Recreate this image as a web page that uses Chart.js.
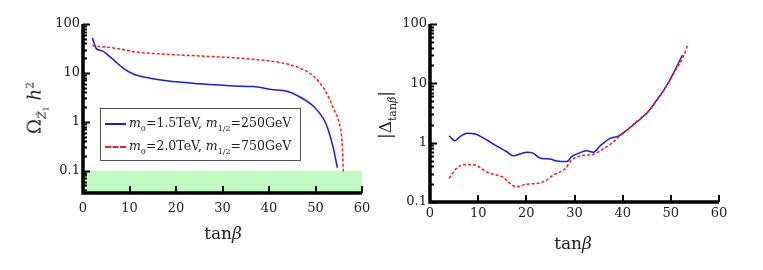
<!DOCTYPE html>
<html>
<head>
<meta charset="utf-8">
<script src="https://cdn.jsdelivr.net/npm/chart.js@4.4.1/dist/chart.umd.min.js"></script>
<style>
body { margin: 0; background: #fff; }
#wrap { position: relative; width: 763px; height: 270px; overflow: hidden; font-family: "DejaVu Serif", serif; color: #222; }
canvas { position: absolute; top: 0; }
.ttl { position: absolute; white-space: nowrap; font-size: 17px; }
.rot { transform: translate(-50%, -50%) rotate(-90deg); }
.legend { position: absolute; left: 100px; top: 108px; width: 199px; height: 51px; border: 1px solid #555; background: #fff; font-size: 12.5px; }
.row { position: absolute; left: 4px; white-space: nowrap; }
.swatch { display: inline-block; width: 21px; vertical-align: middle; margin-right: 3px; }
i { font-style: italic; }
sub { font-size: 8px; }
</style>
</head>
<body>
<div id="wrap">
  <canvas id="relicChart" width="380" height="270" style="left:0px"></canvas>
  <canvas id="tuningChart" width="383" height="270" style="left:380px"></canvas>

  <div class="ttl rot" style="left:37px; top:108px; font-size:18px;">&Omega;<sub style="font-size:11px"><i>Z&#771;</i><sub style="font-size:8px">1</sub></sub>&nbsp;<i>h</i><sup style="font-size:11px">2</sup></div>
  <div class="ttl" style="left:223px; top:233px; transform: translate(-50%, -50%);">tan<i>&beta;</i></div>
  <div class="ttl rot" style="left:387px; top:115px;">|&Delta;<sub style="font-size:11px">tan<i>&beta;</i></sub>|</div>
  <div class="ttl" style="left:573px; top:243px; transform: translate(-50%, -50%);">tan<i>&beta;</i></div>

  <div class="legend">
    <div class="row" style="top:6px;"><span class="swatch" style="border-top:2px solid #1a1aee;"></span><i>m</i><sub>0</sub>=1.5TeV, <i>m</i><sub>1/2</sub>=250GeV</div>
    <div class="row" style="top:29px;"><span class="swatch" style="border-top:2px dashed #ff1a1a;"></span><i>m</i><sub>0</sub>=2.0TeV, <i>m</i><sub>1/2</sub>=750GeV</div>
  </div>
</div>

<script>
// x ticks shared by both panels
var xTicks = [0, 10, 20, 30, 40, 50, 60];
var yTicks = [0.1, 1, 10, 100];

// left panel: relic density vs tan(beta)
var relicBlueX = [2, 2.9, 4, 5.8, 7, 8.7, 10.8, 14.4, 18, 25.2, 32.3, 36.6, 40.5, 43.8, 46.2, 49.5, 51.6, 52.6, 53.8, 54.7];
var relicBlueY = [52, 31, 28.5, 21.5, 17, 12.4, 9.5, 7.8, 6.9, 5.97, 5.4, 5.25, 4.6, 4.2, 3.4, 2.1, 1.2, 0.75, 0.3, 0.115];
var relicRedX = [2, 7.2, 10.8, 18, 25.2, 32.3, 38.1, 42.4, 46.7, 49.5, 52, 54, 55.1, 55.7, 56];
var relicRedY = [36, 31.8, 27.2, 24, 22.2, 20.5, 18.4, 16.3, 12.5, 8.7, 4.5, 1.76, 0.94, 0.4, 0.09];
// WMAP-allowed band
var bandX = [0, 60];
var bandY = [0.1, 0.1];

// right panel: fine tuning |Delta_tanbeta|
var tuneBlueX = [3.95, 5.2, 6.2, 7.75, 9.35, 11.8, 13.8, 15.9, 17.3, 18.7, 20.1, 21.5, 22.8, 24.9, 26.3, 28.4, 29.4, 31.2, 32.5, 33.9, 35.3, 37.4, 39.1, 40.9, 43, 45, 47.1, 49.2, 51.2, 52.4];
var tuneBlueY = [1.31, 1.08, 1.26, 1.44, 1.40, 1.11, 0.88, 0.71, 0.60, 0.645, 0.69, 0.66, 0.55, 0.53, 0.49, 0.48, 0.58, 0.68, 0.73, 0.69, 0.88, 1.18, 1.29, 1.63, 2.26, 3.12, 5.24, 9.4, 19, 30];
var tuneRedX = [3.95, 5.5, 7.6, 9.35, 11.8, 13.8, 15.2, 16.6, 18, 20.1, 22.2, 23.9, 25.6, 28, 29.4, 31.2, 33.9, 36.7, 38.1, 40.2, 43, 45, 47.1, 49.2, 51.2, 52.6, 53.6];
var tuneRedY = [0.25, 0.37, 0.43, 0.42, 0.32, 0.285, 0.26, 0.206, 0.18, 0.2, 0.205, 0.226, 0.285, 0.36, 0.51, 0.6, 0.64, 0.855, 1.04, 1.47, 2.3, 3.2, 5.2, 9.2, 17.9, 28, 47];

var blue = '#1a1aee';
var red = '#ff1a1a';
var tickFont = { family: 'DejaVu Serif', size: 13 };

function toPoints(xs, ys)
{
    return xs.map(function (x, i) { return { x: x, y: ys[i] }; });
}

// axis lines and inward ticks, drawn on top of the data
var axisTicks = {
    id: 'axisTicks',
    afterDatasetsDraw: function (chart) {
        var ctx = chart.ctx, a = chart.chartArea;
        var xs = chart.scales.x, ys = chart.scales.y;
        ctx.save();
        ctx.strokeStyle = '#000';
        ctx.lineWidth = 2;
        var lo = Math.floor(Math.log10(ys.min)), hi = Math.ceil(Math.log10(ys.max));
        for (var d = lo; d <= hi; d++) {
            for (var m = 1; m <= 9; m++) {
                var v = m * Math.pow(10, d);
                if (v < ys.min * 0.999 || v > ys.max * 1.001) continue;
                var py = Math.round(ys.getPixelForValue(v)) + 0.5;
                ctx.beginPath();
                ctx.moveTo(a.left, py);
                ctx.lineTo(a.left + (m == 1 ? 7 : 4), py);
                ctx.stroke();
            }
        }
        xTicks.forEach(function (t) {
            var px = Math.round(xs.getPixelForValue(t));
            ctx.beginPath();
            ctx.moveTo(px, a.bottom);
            ctx.lineTo(px, a.bottom - 7);
            ctx.stroke();
        });
        ctx.lineWidth = 3.5;
        ctx.beginPath();
        ctx.moveTo(a.left, a.top);
        ctx.lineTo(a.left, a.bottom);
        ctx.lineTo(a.right, a.bottom);
        ctx.stroke();
        ctx.restore();
    }
};

function makeOptions(yMin, yWidth, xHeight, xPad, padRight, padTop)
{
    return {
        responsive: false,
        animation: false,
        devicePixelRatio: 1,
        layout: { padding: { top: padTop, right: padRight, left: 0, bottom: 0 } },
        plugins: { legend: { display: false }, tooltip: { enabled: false } },
        elements: { point: { radius: 0 } },
        scales: {
            x: {
                type: 'linear', min: 0, max: 60,
                grid: { display: false, drawTicks: false },
                border: { display: false },
                afterBuildTicks: function (scale) { scale.ticks = xTicks.map(function (v) { return { value: v }; }); },
                afterFit: function (scale) { scale.height = xHeight; },
                ticks: { color: '#222', font: tickFont, padding: xPad, maxRotation: 0 }
            },
            y: {
                type: 'logarithmic', min: yMin, max: 100,
                grid: { display: false, drawTicks: false },
                border: { display: false },
                afterBuildTicks: function (scale) { scale.ticks = yTicks.map(function (v) { return { value: v }; }); },
                afterFit: function (scale) { scale.width = yWidth; },
                ticks: { color: '#222', font: tickFont, padding: 3, callback: function (value) { return String(value); } }
            }
        }
    };
}

var lineStyle = { borderWidth: 1.5, fill: false, cubicInterpolationMode: 'monotone' };

new Chart(document.getElementById('relicChart'), {
    type: 'line',
    data: {
        datasets: [
            Object.assign({ label: 'm0=1.5TeV, m1/2=250GeV', data: toPoints(relicBlueX, relicBlueY), borderColor: blue, order: 1 }, lineStyle),
            Object.assign({ label: 'm0=2.0TeV, m1/2=750GeV', data: toPoints(relicRedX, relicRedY), borderColor: red, borderDash: [3, 2], order: 0 }, lineStyle),
            { label: 'band', data: toPoints(bandX, bandY), borderWidth: 0, borderColor: 'rgba(0,0,0,0)', backgroundColor: '#c2fbc2', fill: 'start', order: 5 }
        ]
    },
    options: makeOptions(0.035, 83, 77, 8, 18, 24),
    plugins: [axisTicks]
});

new Chart(document.getElementById('tuningChart'), {
    type: 'line',
    data: {
        datasets: [
            Object.assign({ label: 'm0=1.5TeV, m1/2=250GeV', data: toPoints(tuneBlueX, tuneBlueY), borderColor: blue, order: 1 }, lineStyle),
            Object.assign({ label: 'm0=2.0TeV, m1/2=750GeV', data: toPoints(tuneRedX, tuneRedY), borderColor: red, borderDash: [3, 2], order: 0 }, lineStyle)
        ]
    },
    options: makeOptions(0.1, 50, 68, 4, 44, 24),
    plugins: [axisTicks]
});
</script>
</body>
</html>
